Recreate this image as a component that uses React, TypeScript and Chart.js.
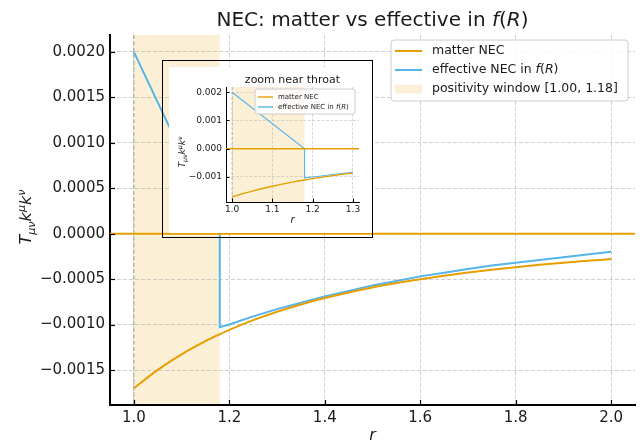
import React, { useEffect, useRef } from "react";
import { Chart, registerables } from "chart.js";
Chart.register(...registerables);

// ---------------- data ----------------
const rMatter = [1.0, 1.05, 1.1, 1.15, 1.18, 1.2, 1.25, 1.3, 1.35, 1.4, 1.45, 1.5, 1.55, 1.6, 1.65, 1.7, 1.75, 1.8, 1.85, 1.9, 1.95, 2.0];
const matterNEC = [-0.0017, -0.001498, -0.001327, -0.001182, -0.001106, -0.001058, -0.000952, -0.000859, -0.000779, -0.000709, -0.000647, -0.000592, -0.000544, -0.000501, -0.000462, -0.000428, -0.000397, -0.000369, -0.000343, -0.00032, -0.000299, -0.00028];

const rEffective = [1.0, 1.18, 1.18, 1.2, 1.25, 1.3, 1.35, 1.4, 1.45, 1.5, 1.55, 1.6, 1.65, 1.7, 1.75, 1.8, 1.85, 1.9, 1.95, 2.0];
const effectiveNEC = [0.002, 0.0, -0.00103, -0.001, -0.00091, -0.00083, -0.00076, -0.00069, -0.00063, -0.00057, -0.00052, -0.00047, -0.00043, -0.00039, -0.00035, -0.00032, -0.00029, -0.00026, -0.00023, -0.0002];

const windowStart = 1.0;
const windowEnd = 1.18;
const throatR = 1.0;

const xTicks = [1.0, 1.2, 1.4, 1.6, 1.8, 2.0];
const yTicks = [-0.0015, -0.001, -0.0005, 0, 0.0005, 0.001, 0.0015, 0.002];
const insetXTicks = [1.0, 1.1, 1.2, 1.3];
const insetYTicks = [-0.001, 0, 0.001, 0.002];

const xLimits = [0.95, 2.05];
const yLimits = [-0.001885, 0.002185];
const insetXLimits = [0.985, 1.315];
const insetRMax = 1.3;

const legendMatter = "matter NEC";
const legendWindow = `positivity window [${windowStart.toFixed(2)}, ${windowEnd.toFixed(2)}]`;
const insetTitle = "zoom near throat";

// ---------------- style ----------------
const FONT = '"DejaVu Sans", sans-serif';
const ORANGE = "#E69F00";
const BLUE = "#56B4E9";
const WINDOW_FILL = "rgba(230,159,0,0.16)";
const GRID = "rgba(176,176,176,0.6)";
const THROAT = "rgba(150,150,150,0.6)";
const TEXT = "#1a1a1a";

type Seg = { t: string; it?: boolean; s?: number; dy?: number };

const titleSegs: Seg[] = [{ t: "NEC: matter vs effective in " }, { t: "f", it: true }, { t: "(" }, { t: "R", it: true }, { t: ")" }];
const effectiveSegs: Seg[] = [{ t: "effective NEC in " }, { t: "f", it: true }, { t: "(" }, { t: "R", it: true }, { t: ")" }];
const yLabelSegs: Seg[] = [
  { t: "T", it: true },
  { t: "μν", it: true, s: 0.7, dy: 0.22 },
  { t: "k", it: true },
  { t: "μ", it: true, s: 0.7, dy: -0.38 },
  { t: "k", it: true },
  { t: "ν", it: true, s: 0.7, dy: -0.38 },
];
const xLabelSegs: Seg[] = [{ t: "r", it: true }];

function fontOf(px: number, it?: boolean) {
  return `${it ? "italic " : ""}${px}px ${FONT}`;
}
function segsWidth(ctx: CanvasRenderingContext2D, segs: Seg[], size: number) {
  let w = 0;
  for (const s of segs) {
    ctx.font = fontOf(size * (s.s ?? 1), s.it);
    w += ctx.measureText(s.t).width;
  }
  return w;
}
function drawSegs(ctx: CanvasRenderingContext2D, segs: Seg[], size: number, x: number, y: number, align: "left" | "center") {
  const w = segsWidth(ctx, segs, size);
  let cx = align === "center" ? x - w / 2 : x;
  ctx.textAlign = "left";
  for (const s of segs) {
    ctx.font = fontOf(size * (s.s ?? 1), s.it);
    ctx.fillText(s.t, cx, y + (s.dy ?? 0) * size);
    cx += ctx.measureText(s.t).width;
  }
}

function fmtSigned(v: number, d: number) {
  const a = Math.abs(v) < 1e-12 ? 0 : v;
  return (a < 0 ? "\u2212" : "") + Math.abs(a).toFixed(d);
}

function roundRect(ctx: CanvasRenderingContext2D, x: number, y: number, w: number, h: number, r: number) {
  ctx.beginPath();
  ctx.moveTo(x + r, y);
  ctx.lineTo(x + w - r, y);
  ctx.quadraticCurveTo(x + w, y, x + w, y + r);
  ctx.lineTo(x + w, y + h - r);
  ctx.quadraticCurveTo(x + w, y + h, x + w - r, y + h);
  ctx.lineTo(x + r, y + h);
  ctx.quadraticCurveTo(x, y + h, x, y + h - r);
  ctx.lineTo(x, y + r);
  ctx.quadraticCurveTo(x, y, x + r, y);
  ctx.closePath();
}

type LegendSpec = {
  x: number; y: number; w: number; h: number; r: number;
  rows: number[]; hx0: number; hx1: number; tx: number; size: number; lw: number; patchH: number; withWindow: boolean;
};

function drawLegend(ctx: CanvasRenderingContext2D, L: LegendSpec) {
  ctx.save();
  roundRect(ctx, L.x, L.y, L.w, L.h, L.r);
  ctx.fillStyle = "rgba(255,255,255,0.85)";
  ctx.fill();
  ctx.strokeStyle = "#cccccc";
  ctx.lineWidth = 1;
  ctx.stroke();
  const lines = [
    { color: ORANGE, segs: [{ t: legendMatter }] as Seg[] },
    { color: BLUE, segs: effectiveSegs },
  ];
  ctx.textBaseline = "middle";
  ctx.fillStyle = TEXT;
  lines.forEach((it, i) => {
    const y = L.rows[i];
    ctx.strokeStyle = it.color;
    ctx.lineWidth = L.lw;
    ctx.beginPath();
    ctx.moveTo(L.hx0, y);
    ctx.lineTo(L.hx1, y);
    ctx.stroke();
    ctx.fillStyle = TEXT;
    drawSegs(ctx, it.segs, L.size, L.tx, y, "left");
  });
  if (L.withWindow) {
    const y = L.rows[2];
    ctx.fillStyle = WINDOW_FILL;
    ctx.fillRect(L.hx0, y - L.patchH / 2, L.hx1 - L.hx0, L.patchH);
    ctx.fillStyle = TEXT;
    drawSegs(ctx, [{ t: legendWindow }], L.size, L.tx, y, "left");
  }
  ctx.restore();
}

function inwardTicks(chart: any, len: number, width: number) {
  const { ctx, chartArea, scales } = chart;
  ctx.save();
  ctx.strokeStyle = "#000";
  ctx.lineWidth = width;
  for (const t of scales.x.ticks) {
    const px = Math.round(scales.x.getPixelForValue(t.value)) + 0.5;
    ctx.beginPath();
    ctx.moveTo(px, chartArea.bottom);
    ctx.lineTo(px, chartArea.bottom - len);
    ctx.stroke();
  }
  for (const t of scales.y.ticks) {
    const py = Math.round(scales.y.getPixelForValue(t.value)) + 0.5;
    ctx.beginPath();
    ctx.moveTo(chartArea.left, py);
    ctx.lineTo(chartArea.left + len, py);
    ctx.stroke();
  }
  ctx.restore();
}

function windowBand(chart: any) {
  const { ctx, chartArea, scales } = chart;
  const x0 = scales.x.getPixelForValue(windowStart);
  const x1 = scales.x.getPixelForValue(windowEnd);
  ctx.save();
  ctx.fillStyle = WINDOW_FILL;
  ctx.fillRect(x0, chartArea.top, x1 - x0, chartArea.bottom - chartArea.top);
  ctx.restore();
}

function throatLine(chart: any, lw: number, dash: number[]) {
  const { ctx, chartArea, scales } = chart;
  const x = scales.x.getPixelForValue(throatR);
  ctx.save();
  ctx.strokeStyle = THROAT;
  ctx.lineWidth = lw;
  ctx.setLineDash(dash);
  ctx.beginPath();
  ctx.moveTo(x, chartArea.top);
  ctx.lineTo(x, chartArea.bottom);
  ctx.stroke();
  ctx.restore();
}

function zeroLine(chart: any, lw: number) {
  const { ctx, chartArea, scales } = chart;
  const y = scales.y.getPixelForValue(0);
  ctx.save();
  ctx.strokeStyle = ORANGE;
  ctx.lineWidth = lw;
  ctx.beginPath();
  ctx.moveTo(chartArea.left, y);
  ctx.lineTo(chartArea.right, y);
  ctx.stroke();
  ctx.restore();
}

const mainDecor = {
  id: "mainDecor",
  beforeDraw(chart: any) {
    windowBand(chart);
  },
  beforeDatasetsDraw(chart: any) {
    throatLine(chart, 1.5, [4, 2.5]);
  },
  afterDatasetsDraw(chart: any) {
    zeroLine(chart, 2);
  },
  afterDraw(chart: any) {
    const { ctx, chartArea } = chart;
    inwardTicks(chart, 5, 1.2);
    ctx.save();
    ctx.fillStyle = TEXT;
    ctx.textBaseline = "alphabetic";
    const cx = (chartArea.left + chartArea.right) / 2;
    drawSegs(ctx, titleSegs, 20, cx, 25.5, "center");
    drawSegs(ctx, xLabelSegs, 16, cx, 440, "center");
    ctx.translate(31, 217);
    ctx.rotate(-Math.PI / 2);
    drawSegs(ctx, yLabelSegs, 16, 0, 0, "center");
    ctx.restore();
    drawLegend(ctx, {
      x: 391, y: 40, w: 237, h: 61, r: 3,
      rows: [51, 70, 89], hx0: 395, hx1: 422, tx: 432, size: 12.5, lw: 2, patchH: 9, withWindow: true,
    });
  },
};

const insetDecor = {
  id: "insetDecor",
  beforeDraw(chart: any) {
    windowBand(chart);
  },
  beforeDatasetsDraw(chart: any) {
    throatLine(chart, 1, [3, 2]);
  },
  afterDatasetsDraw(chart: any) {
    zeroLine(chart, 1.4);
  },
  afterDraw(chart: any) {
    const { ctx, chartArea } = chart;
    inwardTicks(chart, 3.5, 1);
    ctx.save();
    ctx.fillStyle = TEXT;
    ctx.textBaseline = "alphabetic";
    const cx = (chartArea.left + chartArea.right) / 2;
    drawSegs(ctx, [{ t: insetTitle }], 11, cx, 15.5, "center");
    drawSegs(ctx, xLabelSegs, 10, cx, 156, "center");
    ctx.translate(16, 85);
    ctx.rotate(-Math.PI / 2);
    drawSegs(ctx, yLabelSegs, 9, 0, 0, "center");
    ctx.restore();
    drawLegend(ctx, {
      x: 86, y: 22, w: 100, h: 25, r: 2,
      rows: [30, 40], hx0: 89, hx1: 104, tx: 109, size: 7, lw: 1.4, patchH: 5, withWindow: false,
    });
  },
};

function pts(rs: number[], vs: number[], rMax = Infinity) {
  return rs.map((r, i) => ({ x: r, y: vs[i] })).filter((p) => p.x <= rMax + 1e-9);
}

function makeConfig(isInset: boolean) {
  const tickSize = isInset ? 9 : 15;
  const xl = isInset ? insetXLimits : xLimits;
  const xt = isInset ? insetXTicks : xTicks;
  const yt = isInset ? insetYTicks : yTicks;
  const rMax = isInset ? insetRMax : Infinity;
  return {
    type: "line",
    data: {
      datasets: [
        {
          label: legendMatter,
          data: pts(rMatter, matterNEC, rMax),
          borderColor: ORANGE,
          borderWidth: isInset ? 1.4 : 2,
          pointRadius: 0,
          cubicInterpolationMode: "monotone",
          fill: false,
        },
        {
          label: "effective NEC in f(R)",
          data: pts(rEffective, effectiveNEC, rMax),
          borderColor: BLUE,
          borderWidth: isInset ? 1.1 : 2,
          pointRadius: 0,
          tension: 0,
          fill: false,
        },
      ],
    },
    options: {
      animation: false,
      responsive: false,
      devicePixelRatio: 1,
      events: [],
      layout: { padding: isInset ? { left: 0, right: 14, top: 20, bottom: 0 } : { left: 0, right: 5, top: 35, bottom: 0 } },
      plugins: { legend: { display: false }, title: { display: false }, tooltip: { enabled: false } },
      scales: {
        x: {
          type: "linear",
          min: xl[0],
          max: xl[1],
          afterBuildTicks: (s: any) => {
            s.ticks = xt.map((v) => ({ value: v }));
          },
          afterFit: (s: any) => {
            s.height = isInset ? 31 : 37;
          },
          grid: { color: GRID, lineWidth: isInset ? 0.8 : 1, drawTicks: false },
          border: { display: true, color: "#000", width: isInset ? 1 : 2, dash: isInset ? [3, 1.5] : [4, 2] },
          ticks: {
            padding: isInset ? 2 : 4,
            color: TEXT,
            maxRotation: 0,
            autoSkip: false,
            font: { size: tickSize, family: FONT },
            callback: (v: number) => v.toFixed(1),
          },
        },
        y: {
          type: "linear",
          min: yLimits[0],
          max: yLimits[1],
          afterBuildTicks: (s: any) => {
            s.ticks = yt.map((v) => ({ value: v }));
          },
          afterFit: (s: any) => {
            s.width = isInset ? 57 : 110;
          },
          grid: { color: GRID, lineWidth: isInset ? 0.8 : 1, drawTicks: false },
          border: { display: true, color: "#000", width: isInset ? 1 : 2, dash: isInset ? [3, 1.5] : [4, 2] },
          ticks: {
            padding: isInset ? 4 : 5,
            color: TEXT,
            autoSkip: false,
            font: { size: tickSize, family: FONT },
            callback: (v: number) => fmtSigned(v, isInset ? 3 : 4),
          },
        },
      },
    },
    plugins: [isInset ? insetDecor : mainDecor],
  };
}

export default function App() {
  const mainRef = useRef<HTMLCanvasElement>(null);
  const insetRef = useRef<HTMLCanvasElement>(null);
  useEffect(() => {
    document.body.style.margin = "0";
    const main = new Chart(mainRef.current as HTMLCanvasElement, makeConfig(false) as any);
    const inset = new Chart(insetRef.current as HTMLCanvasElement, makeConfig(true) as any);
    return () => {
      main.destroy();
      inset.destroy();
    };
  }, []);
  return (
    <div style={{ position: "relative", width: 640, height: 442, background: "#fff", overflow: "hidden" }}>
      <canvas ref={mainRef} width={640} height={442} style={{ position: "absolute", left: 0, top: 0 }} />
      <canvas ref={insetRef} width={204} height={166} style={{ position: "absolute", left: 169, top: 67, background: "#fff" }} />
      <div
        style={{
          position: "absolute",
          left: 162,
          top: 60,
          width: 211,
          height: 178,
          border: "1.5px solid #000",
          boxSizing: "border-box",
          pointerEvents: "none",
        }}
      />
    </div>
  );
}
